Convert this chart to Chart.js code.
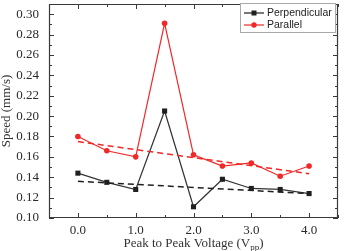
<!DOCTYPE html>
<html lang="en">
<head>
  <meta charset="UTF-8">
  <title>Speed vs Peak to Peak Voltage</title>
  <script src="https://cdn.jsdelivr.net/npm/chart.js@4/dist/chart.umd.min.js"></script>
  <style>
    body { margin: 0; padding: 0; background: #ffffff; }
    #wrap { width: 344px; height: 251px; position: relative; }
  </style>
</head>
<body>
  <div id="wrap"><canvas id="chart"></canvas></div>
  <script>
    // data
    const voltages = [0.0, 0.5, 1.0, 1.5, 2.0, 2.5, 3.0, 3.5, 4.0];
    const perpendicular = [0.144, 0.135, 0.128, 0.205, 0.111, 0.138, 0.129, 0.128, 0.124];
    const parallel = [0.180, 0.166, 0.160, 0.291, 0.162, 0.151, 0.154, 0.141, 0.151];
    // linear fit end points (x = 0 and x = 4)
    const fitX = [0.0, 4.0];
    const perpFit = [0.136, 0.124];
    const paraFit = [0.175, 0.1435];
    const xTicks = [0, 1, 2, 3, 4];
    const yTicks = [0.10, 0.12, 0.14, 0.16, 0.18, 0.20, 0.22, 0.24, 0.26, 0.28, 0.30];
    const seriesNames = ['Perpendicular', 'Parallel'];

    const BLACK = '#202020';
    const RED = '#f02828';
    const serif = "'Liberation Serif', 'Times New Roman', serif";

    const toPts = (xs, ys) => xs.map((x, i) => ({ x: x, y: ys[i] }));

    // frame, inward ticks, axis titles and legend
    const decor = {
      id: 'decor',
      afterDraw(chart) {
        const ctx = chart.ctx;
        const a = chart.chartArea;
        const xs = chart.scales.x, ys = chart.scales.y;
        ctx.save();
        ctx.setLineDash([]);
        ctx.strokeStyle = '#3a3a3a';
        ctx.lineWidth = 1.2;
        ctx.beginPath();
        ctx.rect(Math.round(a.left) + 0.5, Math.round(a.top) + 0.5,
                 Math.round(a.right - a.left) - 1, Math.round(a.bottom - a.top) - 1);
        ctx.stroke();

        ctx.lineWidth = 1;
        ctx.beginPath();
        for (let v = -0.5; v <= 4.5001; v += 0.5) {
          const px = Math.round(xs.getPixelForValue(v)) + 0.5;
          const len = Math.abs(v - Math.round(v)) < 1e-6 ? 5 : 3;
          ctx.moveTo(px, a.bottom); ctx.lineTo(px, a.bottom - len);
          ctx.moveTo(px, a.top); ctx.lineTo(px, a.top + len);
        }
        for (let k = 10; k <= 31; k++) {
          const py = Math.round(ys.getPixelForValue(k / 100)) + 0.5;
          const len = k % 2 === 0 ? 5 : 3;
          ctx.moveTo(a.left, py); ctx.lineTo(a.left + len, py);
          ctx.moveTo(a.right, py); ctx.lineTo(a.right - len, py);
        }
        ctx.stroke();

        // y title
        ctx.fillStyle = '#333';
        ctx.font = '13px ' + serif;
        ctx.textAlign = 'center';
        ctx.textBaseline = 'middle';
        ctx.save();
        ctx.translate(7, (a.top + a.bottom) / 2);
        ctx.rotate(-Math.PI / 2);
        ctx.fillText('Speed (mm/s)', 0, 0);
        ctx.restore();

        // x title with subscript
        const main = 'Peak to Peak Voltage (V';
        ctx.font = '13px ' + serif;
        const w1 = ctx.measureText(main).width;
        ctx.font = '9px ' + serif;
        const w2 = ctx.measureText('pp').width;
        ctx.font = '13px ' + serif;
        const w3 = ctx.measureText(')').width;
        let sx = (a.left + a.right) / 2 - (w1 + w2 + w3) / 2;
        const by = 247;
        ctx.textAlign = 'left';
        ctx.textBaseline = 'alphabetic';
        ctx.fillText(main, sx, by);
        ctx.font = '9px ' + serif;
        ctx.fillText('pp', sx + w1, by + 3);
        ctx.font = '13px ' + serif;
        ctx.fillText(')', sx + w1 + w2, by);

        // legend
        const lx = 240, ly = 3, lw = 95, lh = 29;
        ctx.fillStyle = '#fff';
        ctx.fillRect(lx, ly, lw, lh);
        ctx.strokeStyle = '#aaa';
        ctx.lineWidth = 1;
        ctx.strokeRect(lx + 0.5, ly + 0.5, lw, lh);
        const colors = [BLACK, RED];
        const shapes = ['rect', 'circle'];
        seriesNames.forEach((name, i) => {
          const yy = 13 + i * 12;
          ctx.strokeStyle = colors[i];
          ctx.lineWidth = 1.2;
          ctx.beginPath();
          ctx.moveTo(244, yy); ctx.lineTo(264, yy);
          ctx.stroke();
          ctx.fillStyle = colors[i];
          if (shapes[i] === 'rect') {
            ctx.fillRect(251.5, yy - 2.5, 5, 5);
          } else {
            ctx.beginPath(); ctx.arc(254, yy, 2.7, 0, Math.PI * 2); ctx.fill();
          }
          ctx.fillStyle = '#222';
          ctx.font = '10.5px "Liberation Sans", Arial, sans-serif';
          ctx.textBaseline = 'middle';
          ctx.fillText(name, 267, yy + 0.5);
        });
        ctx.restore();
      }
    };

    new Chart(document.getElementById('chart'), {
      type: 'scatter',
      data: {
        datasets: [{
          label: 'Perpendicular fit',
          data: toPts(fitX, perpFit),
          showLine: true,
          borderColor: BLACK,
          borderWidth: 1.5,
          borderDash: [6, 4],
          pointRadius: 0
        }, {
          label: 'Parallel fit',
          data: toPts(fitX, paraFit),
          showLine: true,
          borderColor: RED,
          borderWidth: 1.5,
          borderDash: [6, 4],
          pointRadius: 0
        }, {
          label: seriesNames[0],
          data: toPts(voltages, perpendicular),
          showLine: true,
          borderColor: '#333',
          borderWidth: 1.2,
          backgroundColor: BLACK,
          pointStyle: 'rect',
          pointRadius: 3.6,
          pointBorderWidth: 0
        }, {
          label: seriesNames[1],
          data: toPts(voltages, parallel),
          showLine: true,
          borderColor: RED,
          borderWidth: 1.2,
          backgroundColor: RED,
          pointStyle: 'circle',
          pointRadius: 2.8,
          pointBorderWidth: 0
        }]
      },
      options: {
        responsive: true,
        maintainAspectRatio: false,
        animation: false,
        layout: { padding: { left: 0, right: 6, top: 4, bottom: 0 } },
        plugins: { legend: { display: false }, tooltip: { enabled: false } },
        scales: {
          x: {
            type: 'linear',
            min: -0.5,
            max: 4.5,
            afterFit: s => { s.height = 33; s.paddingLeft = 0; s.paddingRight = 0; },
            afterBuildTicks: s => { s.ticks = xTicks.map(v => ({ value: v })); },
            grid: { display: false, drawTicks: false },
            border: { display: false },
            ticks: {
              padding: 5,
              color: '#2a2a2a',
              font: { family: serif, size: 13 },
              callback: v => v.toFixed(1)
            }
          },
          y: {
            min: 0.10,
            max: 0.31,
            afterFit: s => { s.width = 49; s.paddingTop = 0; s.paddingBottom = 0; },
            afterBuildTicks: s => { s.ticks = yTicks.map(v => ({ value: v })); },
            grid: { display: false, drawTicks: false },
            border: { display: false },
            ticks: {
              padding: 10,
              color: '#2a2a2a',
              font: { family: serif, size: 13 },
              callback: v => v.toFixed(2)
            }
          }
        }
      },
      plugins: [decor]
    });
  </script>
</body>
</html>
